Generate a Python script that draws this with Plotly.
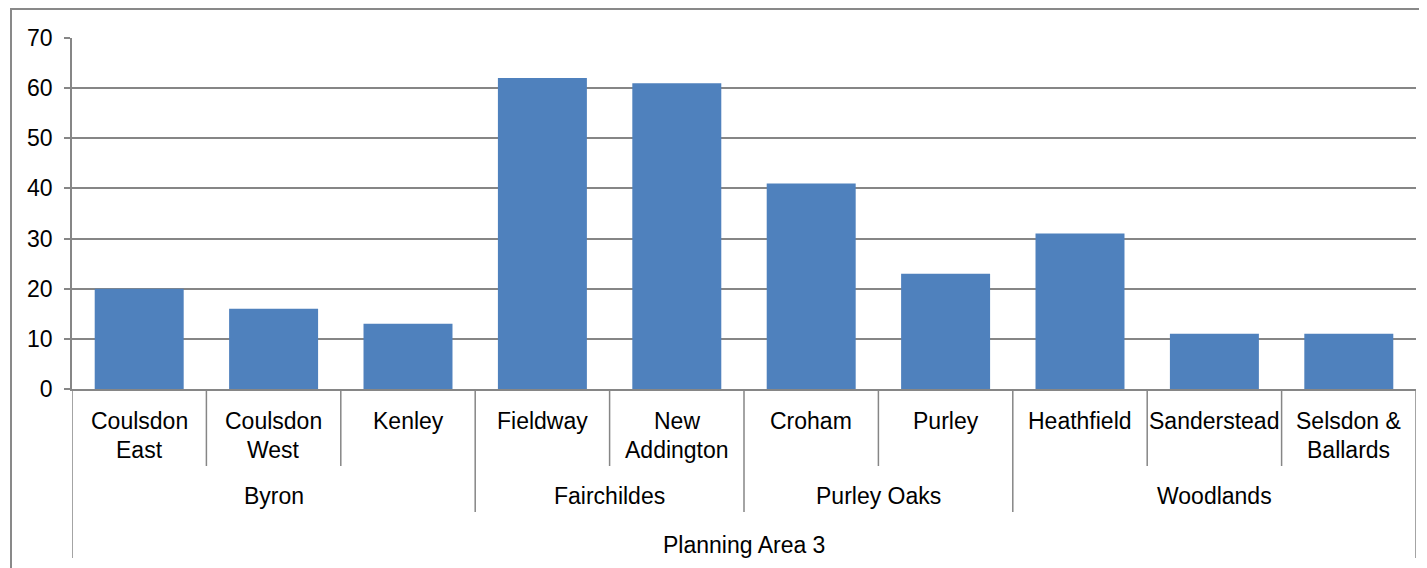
import plotly.graph_objects as go

wards = ["Coulsdon<br>East", "Coulsdon<br>West", "Kenley", "Fieldway", "New<br>Addington",
         "Croham", "Purley", "Heathfield", "Sanderstead", "Selsdon &<br>Ballards"]
values = [20, 16, 13, 62, 61, 41, 23, 31, 11, 11]
groups = ["Byron", "Fairchildes", "Purley Oaks", "Woodlands"]
group_sizes = [3, 2, 2, 3]
top_label = "Planning Area 3"
y_ticks = [0, 10, 20, 30, 40, 50, 60, 70]

# page body has an 8px margin; work in screen pixels and convert
OFF = 8
W, H = 1427 - OFF, 568 - OFF
ML, MR, MT, MB = 72 - OFF, 11, 38 - OFF, 179
PH = H - MT - MB
FONT = "Liberation Sans, Arial, sans-serif"
GRID = "#868686"
BLACK = "#000000"


def py(p):
    # screen pixel y -> paper y
    return (H - MB - (p - OFF)) / PH


def px(p):
    return (p - OFF - ML) / (W - ML - MR)


n = len(wards)
xs = list(range(n))

fig = go.Figure(go.Bar(x=xs, y=values, marker=dict(color="#4F81BD", line=dict(width=0)),
                       hoverinfo="y"))

shapes = []
annotations = []

# chart area border
shapes.append(dict(type="rect", xref="paper", yref="paper", x0=px(11), x1=1.1, y0=-0.7, y1=py(9),
                   line=dict(color="#898989", width=2), fillcolor="rgba(0,0,0,0)", layer="below"))

# ward labels
for i, w in enumerate(wards):
    lines = w.split("<br>")
    for j, ln in enumerate(lines):
        annotations.append(dict(x=i, y=py(421 + 28.5 * j), xref="x", yref="paper", text=ln,
                                showarrow=False, xanchor="center", yanchor="middle",
                                font=dict(family=FONT, size=23, color=BLACK)))

# dividers and group labels
start = 0
group_bounds = set()
for g, size in zip(groups, group_sizes):
    center = start + (size - 1) / 2
    annotations.append(dict(x=center, y=py(496), xref="x", yref="paper", text=g, showarrow=False,
                            xanchor="center", yanchor="middle",
                            font=dict(family=FONT, size=23, color=BLACK)))
    start += size
    group_bounds.add(start)

for b in range(1, n):
    bottom = 512 if b in group_bounds else 466
    shapes.append(dict(type="line", xref="x", yref="paper", x0=b - 0.5, x1=b - 0.5,
                       y0=0, y1=py(bottom), line=dict(color=GRID, width=1.5)))
for b in (0, n):
    shapes.append(dict(type="line", xref="x", yref="paper", x0=b - 0.5, x1=b - 0.5,
                       y0=0, y1=py(558), line=dict(color=GRID, width=1.5)))

annotations.append(dict(x=(n - 1) / 2, y=py(545), xref="x", yref="paper", text=top_label,
                        showarrow=False, xanchor="center", yanchor="middle",
                        font=dict(family=FONT, size=23, color=BLACK)))

fig.update_layout(
    width=W, height=H, autosize=False,
    margin=dict(l=ML, r=MR, t=MT, b=MB, pad=0),
    paper_bgcolor="white", plot_bgcolor="white",
    bargap=0.338,
    showlegend=False,
    shapes=shapes,
    annotations=annotations,
    xaxis=dict(range=[-0.5, n - 0.5], showticklabels=False, showgrid=False, zeroline=False,
               showline=True, linecolor=GRID, linewidth=1.5, ticks="", fixedrange=True),
    yaxis=dict(range=[0, 70], tickvals=y_ticks, showgrid=True, gridcolor=GRID, gridwidth=1.5,
               zeroline=False, showline=True, linecolor=GRID, linewidth=1.5,
               ticks="outside", ticklen=6, tickcolor=GRID, tickwidth=1.5,
               ticklabelstandoff=7,
               tickfont=dict(family=FONT, size=23, color=BLACK), fixedrange=True),
)

fig.write_html("out.html")
